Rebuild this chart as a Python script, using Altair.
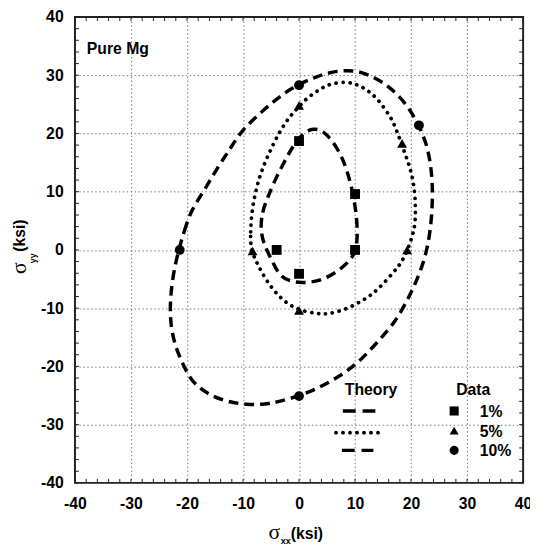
import altair as alt
import pandas as pd

W, H = 455, 473
X_TICKS = list(range(-40, 41, 10))
Y_TICKS = list(range(-40, 41, 10))
MINOR = list(range(-40, 41, 2))

PCTS = ["1%", "5%", "10%"]
SHAPES = ["square", "triangle-up", "circle"]

# measured data points
D1_X = [0, 10, 10, -4, 0]
D1_Y = [18.7, 9.6, 0, 0, -4.1]
D5_X = [0, 18.4, 19.3, -8.3, 0]
D5_Y = [24.8, 18.3, 0, -0.2, -10.4]
D10_X = [0, 21.4, -21.3, 0]
D10_Y = [28.3, 21.4, 0, -25.1]

# theory yield surfaces (clockwise)
T1_X = [-6.9, -6.6, -5.6, -4.4, -2.6, -1.0, 0.8, 2.6, 4.3, 5.9, 7.9, 9.7, 10.5, 10.3, 9.9, 7.1, 3.6, 0.5, -2.0, -3.6, -5.0, -6.3]
T1_Y = [3.5, 6.5, 9.0, 11.8, 15.2, 18.0, 20.2, 20.9, 20.5, 18.8, 15.8, 10.0, 4.0, 0.8, -1.0, -3.7, -5.4, -5.7, -5.3, -4.3, -1.5, 1.0]
T5_X = [-8.6, -8.7, -8.4, -7.2, -5.5, -3.5, -1.7, 0.0, 1.5, 3.6, 5.3, 8.3, 10.3, 12.3, 14.1, 16.4, 17.3, 19.1, 20.2, 20.8, 20.8, 20.2, 19.4, 18.2, 17.0, 14.1, 12.1, 8.5, 5.3, 3.6, -0.2, -3.2, -5.8, -7.5]
T5_Y = [0.0, 2.8, 7.3, 12.4, 16.4, 20.3, 22.9, 24.6, 26.2, 27.5, 28.5, 28.9, 28.5, 27.4, 25.9, 22.8, 20.9, 16.1, 13.0, 9.0, 4.5, 2.3, 0.0, -2.3, -3.7, -6.8, -8.3, -10.2, -11.0, -11.0, -10.4, -8.5, -5.4, -2.3]
T10_X = [-21.5, -20.5, -19.3, -16.9, -14.6, -12.2, -10.2, -6.4, -2.9, 0.0, 3.0, 5.5, 8.5, 11.0, 13.5, 16.4, 19.4, 21.4, 22.9, 23.7, 23.9, 23.5, 22.6, 21.1, 19.4, 17.3, 14.5, 10.8, 7.3, 3.5, 0.0, -3.8, -6.1, -9.3, -12.8, -16.3, -19.2, -20.7, -22.2, -23.0, -23.0, -22.5]
T10_Y = [0.0, 3.2, 6.8, 10.2, 14.1, 17.5, 20.6, 24.0, 26.8, 28.5, 29.7, 30.5, 30.9, 30.6, 29.6, 27.9, 24.8, 21.4, 18.0, 13.5, 9.0, 3.4, -1.1, -5.1, -8.5, -12.2, -15.3, -19.2, -21.7, -23.7, -25.1, -26.1, -26.5, -26.6, -26.1, -24.8, -22.6, -19.7, -16.4, -12.4, -8.5, -4.3]

FONT = "Liberation Sans"

xscale = alt.Scale(domain=[-40, 40], nice=False, zero=False)
yscale = alt.Scale(domain=[-40, 40], nice=False, zero=False)
grid_op = {"condition": {"test": "abs(datum.value) >= 40", "value": 0}, "value": 1}
xaxis = alt.Axis(values=X_TICKS, title=None, ticks=False, domain=False, grid=True,
                 gridColor="#777", gridDash=[1.5, 2.5], gridWidth=1, gridOpacity=grid_op,
                 labelExpr="'' + datum.value",
                 labelFont=FONT, labelFontSize=16, labelFontWeight="bold", labelColor="black",
                 labelPadding=13, labelFlush=False, labelOverlap=False)
yaxis = alt.Axis(values=Y_TICKS, title=None, ticks=False, domain=False, grid=True,
                 gridColor="#777", gridDash=[1.5, 2.5], gridWidth=1, gridOpacity=grid_op,
                 labelExpr="'' + datum.value",
                 labelFont=FONT, labelFontSize=16, labelFontWeight="bold", labelColor="black",
                 labelPadding=12, labelFlush=False, labelOverlap=False)


def curve_df(xs, ys):
    return pd.DataFrame({"x": xs, "y": ys, "i": list(range(len(xs)))})


def curve(xs, ys, dash, cap, width):
    return alt.Chart(curve_df(xs, ys)).mark_line(
        interpolate="basis-closed", color="black", strokeDash=dash,
        strokeCap=cap, strokeWidth=width
    ).encode(
        x=alt.X("x:Q", scale=xscale, axis=xaxis),
        y=alt.Y("y:Q", scale=yscale, axis=yaxis),
        order="i:Q",
    )


DASH = [10, 6]
DOT = [0.1, 7]
LEG_DASH = [13, 7]

c1 = curve(T1_X, T1_Y, DASH, "butt", 3.5)
c5 = curve(T5_X, T5_Y, DOT, "round", 3.8)
c10 = curve(T10_X, T10_Y, DASH, "butt", 3.5)

pts = pd.DataFrame({
    "x": D1_X + D5_X + D10_X,
    "y": D1_Y + D5_Y + D10_Y,
    "pct": ["1%"] * len(D1_X) + ["5%"] * len(D5_X) + ["10%"] * len(D10_X),
})
points = alt.Chart(pts).mark_point(filled=True, color="black", opacity=1, size=100).encode(
    x=alt.X("x:Q", scale=xscale, axis=xaxis),
    y=alt.Y("y:Q", scale=yscale, axis=yaxis),
    shape=alt.Shape("pct:N", scale=alt.Scale(domain=PCTS, range=SHAPES), legend=None),
)

# inward minor ticks on all four sides
tdf = pd.DataFrame({"v": MINOR})
tk = dict(color="#222", strokeWidth=1)
tb = alt.Chart(tdf).mark_rule(**tk).encode(x=alt.X("v:Q", scale=xscale, axis=xaxis), y=alt.value(H), y2=alt.value(H - 4))
tt = alt.Chart(tdf).mark_rule(**tk).encode(x=alt.X("v:Q", scale=xscale, axis=xaxis), y=alt.value(0), y2=alt.value(4))
tl = alt.Chart(tdf).mark_rule(**tk).encode(y=alt.Y("v:Q", scale=yscale, axis=yaxis), x=alt.value(0), x2=alt.value(4))
tr = alt.Chart(tdf).mark_rule(**tk).encode(y=alt.Y("v:Q", scale=yscale, axis=yaxis), x=alt.value(W), x2=alt.value(W - 4))


def text(s, x, y, size, weight="bold", align="left", baseline="alphabetic", angle=0, font=FONT):
    return alt.Chart(pd.DataFrame({"t": [s]})).mark_text(
        font=font, fontSize=size, fontWeight=weight, align=align, baseline=baseline,
        angle=angle, color="black"
    ).encode(text="t:N", x=alt.value(x), y=alt.value(y))


labels = [
    text("Pure Mg", 12, 38, 16),
    # x axis title
    text("σ", 202.5, 530, 22, weight="normal", align="center", font="Liberation Serif"),
    text("xx", 209, 535, 9),
    text("(ksi)", 219, 530, 16),
    # y axis title (rotated)
    text("σ", -57, 255, 22, weight="normal", align="center", baseline="middle", angle=270, font="Liberation Serif"),
    text("yy", -43, 245, 9, align="center", baseline="middle", angle=270),
    text("(ksi)", -56, 222, 16, align="center", baseline="middle", angle=270),
    # legend titles
    text("Theory", 274, 383.5, 16),
    text("Data", 387, 383.5, 16),
]

# legend: theory line samples
THEORY_ROWS = [400, 422, 440]
THEORY_X = [(272, 305), (265, 309), (271, 303)]
THEORY_STYLE = [(LEG_DASH, "butt", 3.5), (DOT, "round", 3.8), (LEG_DASH, "butt", 3.5)]
leg = []
for (x0, x1), yy, (dash, cap, w) in zip(THEORY_X, THEORY_ROWS, THEORY_STYLE):
    leg.append(alt.Chart(pd.DataFrame({"t": [0]})).mark_rule(
        color="black", strokeDash=dash, strokeCap=cap, strokeWidth=w
    ).encode(x=alt.value(x0), x2=alt.value(x1), y=alt.value(yy)))

DATA_ROWS = [400, 420, 440]
for p, shp, yy in zip(PCTS, SHAPES, DATA_ROWS):
    leg.append(alt.Chart(pd.DataFrame({"t": [p]})).mark_point(
        filled=True, color="black", opacity=1, size=85, shape=shp
    ).encode(x=alt.value(385), y=alt.value(yy)))
    leg.append(text(p, 411, yy + 1, 16, baseline="middle"))

chart = alt.layer(
    tb, tt, tl, tr, c10, c5, c1, points, *labels, *leg
).properties(
    width=W, height=H,
    autosize=alt.AutoSizeParams(type="none"),
    padding={"left": 68, "top": 5, "right": 7, "bottom": 64},
).configure_view(stroke="#222", strokeWidth=2)

chart.save("out.html", embed_options={"renderer": "svg", "actions": False})
